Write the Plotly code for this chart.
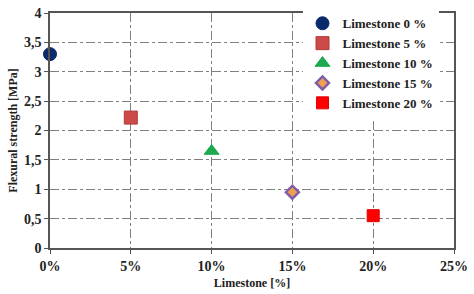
import plotly.graph_objects as go

names = ["Limestone 0 %", "Limestone 5 %", "Limestone 10 %", "Limestone 15 %", "Limestone 20 %"]
limestone = [0, 5, 10, 15, 20]
strength = [3.3, 2.22, 1.65, 0.95, 0.55]
x_ticks = [0, 5, 10, 15, 20, 25]
x_labels = ["0%", "5%", "10%", "15%", "20%", "25%"]
y_ticks = [0, 0.5, 1, 1.5, 2, 2.5, 3, 3.5, 4]
y_labels = ["0", "0,5", "1", "1,5", "2", "2,5", "3", "3,5", "4"]

symbols = ["circle", "square", "triangle-up", "diamond", "square"]
fills = ["#0b2a6b", "#cc4b48", "#1ea84f", "#f0a050", "#ff0000"]
lines = ["#0b2a6b", "#b03a38", "#1ea84f", "#7e5ea8", "#e00000"]
sizes = [13, 13, 13, 10, 12]
lw = [1, 1, 1, 2.5, 1]

fig = go.Figure()
for i in range(len(names)):
    fig.add_trace(go.Scatter(
        x=[limestone[i]], y=[strength[i]], mode="markers", name=names[i],
        cliponaxis=False,
        marker=dict(symbol=symbols[i], color=fills[i], size=sizes[i],
                    line=dict(color=lines[i], width=lw[i])),
    ))

font = "Liberation Serif, Times New Roman, serif"
fig.update_layout(
    width=474, height=294,
    margin=dict(l=50, r=19, t=6, b=46),
    paper_bgcolor="white", plot_bgcolor="white",
    font=dict(family=font, color="#222222"),
    legend=dict(x=0.625, y=1.02, xanchor="left", yanchor="top",
                bgcolor="white", borderwidth=0,
                font=dict(family=font, size=13, color="#222222", weight="bold"),
                itemwidth=30, tracegroupgap=0),
    xaxis=dict(range=[0, 25], tickvals=x_ticks, ticktext=x_labels,
               showgrid=True, gridcolor="#808080", griddash="dashdot", gridwidth=1,
               showline=True, linecolor="#555555", linewidth=1.5, mirror=True,
               ticks="outside", ticklen=4, tickcolor="#555555",
               tickfont=dict(family=font, size=14, weight="bold", color="#222222"),
               title=dict(text="Limestone [%]", standoff=6,
                          font=dict(family=font, size=12, weight="bold", color="#222222")),
               zeroline=False),
    yaxis=dict(range=[0, 4], tickvals=y_ticks, ticktext=y_labels,
               showgrid=True, gridcolor="#808080", griddash="dashdot", gridwidth=1,
               showline=True, linecolor="#555555", linewidth=1.5, mirror=True,
               ticks="outside", ticklen=4, tickcolor="#555555",
               tickfont=dict(family=font, size=14, weight="bold", color="#222222"),
               title=dict(text="Flexural strength [MPa]", standoff=4,
                          font=dict(family=font, size=12, weight="bold", color="#222222")),
               zeroline=False),
)
fig.write_html("out.html")
